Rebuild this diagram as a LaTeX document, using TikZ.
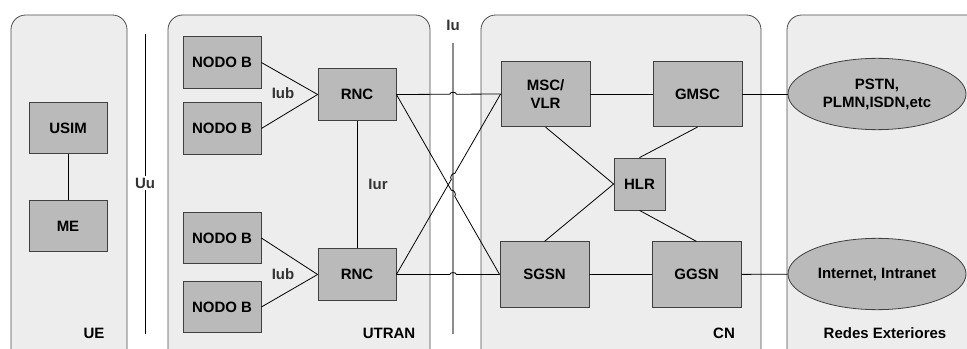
\documentclass[tikz,border=0pt]{standalone}
\usepackage{fontspec}
\setmainfont{Liberation Sans}
\usetikzlibrary{shapes,calc}

\begin{document}
\begin{tikzpicture}
[x=0.75pt,y=-0.75pt,
 every node/.style={font=\fontsize{11.25}{13.5}\selectfont\bfseries},
 panel/.style={draw=black!70,fill=black!7,rounded corners=11pt,line width=0.6pt},
 box/.style={rectangle,draw=black!75,fill=black!27,line width=0.6pt,inner sep=0pt,
             minimum width=58.5pt,minimum height=38.5pt,align=center},
 bigbox/.style={box,minimum width=66.75pt,minimum height=49pt},
 hlrbox/.style={box,minimum width=38.25pt,minimum height=39pt},
 extnet/.style={ellipse,draw=black!75,fill=black!27,line width=0.6pt,inner sep=0pt,
             minimum width=133.5pt,minimum height=53.5pt,align=center},
 iface/.style={text=black!80},
 link/.style={draw,line width=0.6pt}]
   \useasboundingbox (0,0) rectangle (967,349);
   \clip (0,0) rectangle (967,349);
   % domains
   \draw[panel] (11,15) rectangle (127,365);
   \draw[panel] (168,15) rectangle (430,365);
   \draw[panel] (481,15) rectangle (761,365);
   \draw[panel] (787,15) rectangle (1000,365);
   \node (ue) at (94,333) {UE};
   \node (utran) at (389,333) {UTRAN};
   \node (cn) at (724,333) {CN};
   \node (redes) at (885,333) {Redes Exteriores};
   % interfaces
   \coordinate (uuT) at (145,34);
   \coordinate (uuB) at (145,334);
   \draw[line width=0.6pt] (uuT) -- (uuB);
   \node[iface,fill=white,inner sep=1pt] (uu) at (145,183) {Uu};
   \coordinate (iuT) at (453,43);
   \coordinate (iuB) at (453,334);
   \draw[line width=1.5pt,black!45] (iuT) -- (iuB);
   \node[iface] (iu) at (453,25) {Iu};
   % UE
   \node[box] (usim) at (68,128) {USIM};
   \node[box] (me) at (68,226) {ME};
   % UTRAN
   \node[box] (nb_1) at (222,62.5) {NODO B};
   \node[box] (nb_2) at (222,128.5) {NODO B};
   \node[box] (nb_3) at (222,238) {NODO B};
   \node[box] (nb_4) at (222,307) {NODO B};
   \node[box] (rnc_1) at (357,94.5) {RNC};
   \node[box] (rnc_2) at (357,274.5) {RNC};
   \node[iface] (iub_1) at (283,93) {Iub};
   \node[iface] (iub_2) at (283,274) {Iub};
   \node[iface] (iur) at (378,184) {Iur};
   % CN
   \node[bigbox] (msc) at (545.5,94) {MSC/\\VLR};
   \node[bigbox] (gmsc) at (697.5,94) {GMSC};
   \node[hlrbox] (hlr) at (639.5,184) {HLR};
   \node[bigbox] (sgsn) at (544.5,274.5) {SGSN};
   \node[bigbox] (ggsn) at (696.5,274.5) {GGSN};
   % redes exteriores
   \node[extnet] (pstn) at (877,94) {PSTN,\\PLMN,ISDN,etc};
   \node[extnet] (inet) at (877,274) {Internet, Intranet};

   \path[link]
   (usim) edge (me)
   (nb_1.east) edge (rnc_1.west)
   (nb_2.east) edge (rnc_1.west)
   (nb_3.east) edge (rnc_2.west)
   (nb_4.east) edge (rnc_2.west)
   (rnc_1) edge (rnc_2)
   (msc) edge (gmsc)
   (msc.south) edge (hlr.west)
   (sgsn.north) edge (hlr.west)
   (gmsc.south) edge (hlr.north)
   (hlr.south) edge (ggsn.north)
   (sgsn) edge (ggsn)
   (gmsc) edge (pstn)
   (ggsn) edge (inet);

   % links over Iu, with hops
   \coordinate (h_1) at (intersection of rnc_1.east--msc.west and iuT--iuB);
   \coordinate (h_2) at (intersection of rnc_1.east--sgsn.west and iuT--iuB);
   \coordinate (h_3) at (intersection of rnc_2.east--msc.west and iuT--iuB);
   \coordinate (h_4) at (intersection of rnc_2.east--sgsn.west and iuT--iuB);
   \draw[link] (rnc_1.east) -- ($(h_1)!2.5pt!(rnc_1.east)$) to[bend left=90] ($(h_1)!2.5pt!(msc.west)$) -- (msc.west);
   \draw[link] (rnc_1.east) -- ($(h_2)!2.5pt!(rnc_1.east)$) to[bend left=90] ($(h_2)!2.5pt!(sgsn.west)$) -- (sgsn.west);
   \draw[link] (rnc_2.east) -- ($(h_3)!2.5pt!(rnc_2.east)$) to[bend left=90] ($(h_3)!2.5pt!(msc.west)$) -- (msc.west);
   \draw[link] (rnc_2.east) -- ($(h_4)!2.5pt!(rnc_2.east)$) to[bend left=90] ($(h_4)!2.5pt!(sgsn.west)$) -- (sgsn.west);
\end{tikzpicture}
\end{document}
